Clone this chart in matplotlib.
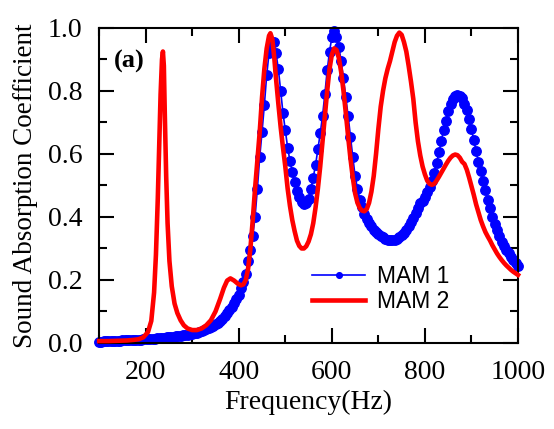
import numpy as np
import matplotlib
matplotlib.use("Agg")
import matplotlib.pyplot as plt
from matplotlib.ticker import MultipleLocator

# MAM 1 : 5 Hz grid, 100..1000 Hz
mam1_freq = list(range(100, 1001, 5))
mam1_val = [
    0.004, 0.004, 0.005, 0.005, 0.005, 0.006, 0.006, 0.006, 0.007, 0.007,   # 100-145
    0.008, 0.008, 0.008, 0.009, 0.009, 0.010, 0.010, 0.011, 0.011, 0.012,   # 150-195
    0.012, 0.013, 0.013, 0.014, 0.014, 0.015, 0.016, 0.016, 0.017, 0.018,   # 200-245
    0.018, 0.019, 0.020, 0.021, 0.022, 0.023, 0.024, 0.025, 0.026, 0.028,   # 250-295
    0.029, 0.031, 0.033, 0.035, 0.037, 0.040, 0.043, 0.046, 0.050, 0.054,   # 300-345
    0.059, 0.064, 0.070, 0.077, 0.085, 0.094, 0.104, 0.115, 0.127, 0.141,   # 350-395
    0.152, 0.175, 0.195, 0.220, 0.260, 0.295, 0.340, 0.400, 0.490, 0.590,   # 400-445
    0.670, 0.756, 0.850, 0.920, 0.952, 0.955, 0.920, 0.870, 0.800, 0.730,   # 450-495
    0.675, 0.620, 0.578, 0.544, 0.510, 0.482, 0.462, 0.448, 0.440, 0.443,   # 500-545
    0.458, 0.490, 0.525, 0.565, 0.615, 0.665, 0.720, 0.790, 0.865, 0.925,   # 550-595
    0.970, 0.990, 0.972, 0.940, 0.895, 0.840, 0.780, 0.720, 0.655, 0.590,   # 600-645
    0.530, 0.490, 0.455, 0.430, 0.410, 0.395, 0.382, 0.370, 0.360, 0.352,   # 650-695
    0.345, 0.340, 0.335, 0.331, 0.328, 0.326, 0.326, 0.327, 0.330, 0.335,   # 700-745
    0.342, 0.350, 0.360, 0.372, 0.385, 0.398, 0.412, 0.428, 0.443, 0.452,   # 750-795
    0.462, 0.478, 0.495, 0.515, 0.540, 0.570, 0.605, 0.640, 0.675, 0.705,   # 800-845
    0.735, 0.758, 0.774, 0.784, 0.788, 0.785, 0.776, 0.760, 0.740, 0.712,   # 850-895
    0.678, 0.645, 0.610, 0.575, 0.545, 0.515, 0.485, 0.455, 0.428, 0.400,   # 900-945
    0.378, 0.357, 0.338, 0.322, 0.308, 0.296, 0.284, 0.273, 0.263, 0.253,   # 950-995
    0.243,                                                                  # 1000
]

# MAM 2 : denser sampling around the sharp peaks
mam2_freq = [
    100, 120, 140, 160, 175, 185, 195, 205, 212, 218, 222, 226, 229, 232, 235,
    237, 239, 241, 244, 247, 251, 256, 262, 268, 275, 282, 290, 300, 310, 320,
    330, 340, 350, 360, 368, 375, 382, 390, 398, 405, 410, 415, 420, 425, 430,
    435, 440, 445, 450, 455, 460, 465, 468, 472, 476, 480, 485, 490, 495, 500,
    505, 510, 515, 520, 525, 530, 535, 540, 545, 550, 555, 560, 565, 570, 575,
    580, 585, 590, 595, 600, 605, 610, 615, 620, 625, 630, 635, 640, 645, 650,
    655, 660, 665, 670, 675, 680, 685, 690, 695, 700, 705, 710, 715, 720, 725,
    730, 735, 740, 745, 750, 755, 760, 765, 770, 775, 780, 785, 790, 795, 800,
    805, 810, 815, 820, 825, 830, 835, 840, 845, 850, 855, 860, 865, 870, 875,
    880, 885, 890, 895, 900, 905, 910, 915, 920, 925, 930, 935, 940, 945, 950,
    955, 960, 965, 970, 975, 980, 985, 990, 995, 1000,
]
mam2_val = [
    0.006, 0.006, 0.007, 0.008, 0.010, 0.012, 0.018, 0.035, 0.070, 0.160, 0.280, 0.460, 0.620, 0.790, 0.900,
    0.925, 0.880, 0.730, 0.530, 0.380, 0.260, 0.180, 0.125, 0.095, 0.072, 0.056, 0.046, 0.041, 0.041, 0.046,
    0.056, 0.072, 0.100, 0.140, 0.175, 0.198, 0.205, 0.198, 0.188, 0.183, 0.186, 0.200, 0.235, 0.300, 0.390,
    0.490, 0.580, 0.670, 0.780, 0.870, 0.935, 0.975, 0.983, 0.965, 0.910, 0.840, 0.760, 0.685, 0.620, 0.560,
    0.490, 0.435, 0.390, 0.355, 0.325, 0.308, 0.300, 0.300, 0.307, 0.322, 0.345, 0.380, 0.430, 0.490, 0.560,
    0.640, 0.720, 0.800, 0.870, 0.915, 0.935, 0.930, 0.905, 0.860, 0.800, 0.730, 0.655, 0.585, 0.525, 0.475,
    0.445, 0.428, 0.420, 0.418, 0.425, 0.445, 0.480, 0.530, 0.600, 0.680, 0.750, 0.800, 0.840, 0.870, 0.895,
    0.925, 0.955, 0.975, 0.985, 0.978, 0.955, 0.925, 0.880, 0.830, 0.775, 0.700, 0.640, 0.595, 0.560, 0.535,
    0.515, 0.505, 0.502, 0.505, 0.515, 0.527, 0.540, 0.553, 0.566, 0.578, 0.588, 0.595, 0.598, 0.596, 0.588,
    0.575, 0.568, 0.550, 0.525, 0.498, 0.470, 0.440, 0.415, 0.390, 0.370, 0.352, 0.338, 0.325, 0.310, 0.297,
    0.284, 0.273, 0.263, 0.254, 0.246, 0.239, 0.232, 0.226, 0.221, 0.216,
]

serif = ["Liberation Serif", "DejaVu Serif"]

fig = plt.figure(figsize=(5.54, 4.29), dpi=100)
ax = fig.add_axes([0.179, 0.2005, 0.756, 0.7345])

ax.plot(mam1_freq, mam1_val, color="#0000ff", lw=1.2, marker="o", ms=6.8,
        mec="#0000ff", label="MAM 1", clip_on=False, zorder=2)
ax.plot(mam2_freq, mam2_val, color="#ff0000", lw=3.3, label="MAM 2",
        clip_on=False, zorder=3)

ax.set_xlim(100, 1000)
ax.set_ylim(0, 1.0)
ax.xaxis.set_major_locator(MultipleLocator(200))
ax.xaxis.set_minor_locator(MultipleLocator(100))
ax.yaxis.set_major_locator(MultipleLocator(0.2))
ax.yaxis.set_minor_locator(MultipleLocator(0.1))
ax.xaxis.set_major_formatter(lambda v, p: f"{int(v)}")
ax.yaxis.set_major_formatter(lambda v, p: f"{v:.1f}")

ax.tick_params(which="both", direction="in", top=True, right=True, width=1.5)
ax.tick_params(which="major", length=11, pad=12)
ax.tick_params(which="minor", length=6)
for lab in ax.get_xticklabels() + ax.get_yticklabels():
    lab.set_family(serif)
    lab.set_fontsize(20)
for s in ax.spines.values():
    s.set_linewidth(1.5)

ax.set_xlabel("Frequency(Hz)", family=serif, fontsize=20, labelpad=4)
ax.set_ylabel("Sound Absorption Coefficient", family=serif, fontsize=19.5, labelpad=7)

ax.text(0.036, 0.893, "(a)", transform=ax.transAxes, family=serif,
        fontsize=19, fontweight="bold", va="center", ha="left")

leg = ax.legend(loc="lower left", bbox_to_anchor=(0.46, 0.03), frameon=False,
                prop={"family": ["Liberation Sans", "DejaVu Sans"], "size": 16.5},
                handlelength=2.3, handletextpad=0.5, labelspacing=0.08,
                markerscale=0.6)

fig.savefig("out.png", dpi=100)
